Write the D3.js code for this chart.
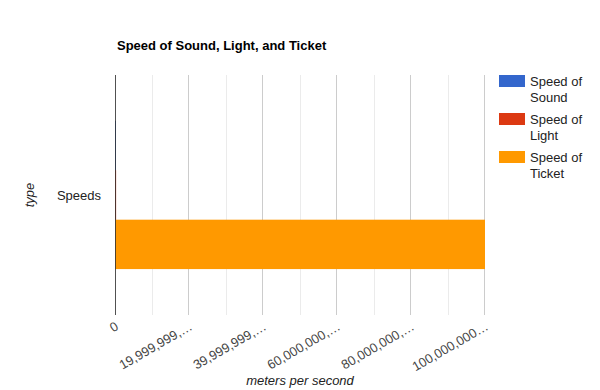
<!DOCTYPE html>
<html>
<head>
<meta charset="utf-8">
<script src="https://cdn.jsdelivr.net/npm/d3@7/dist/d3.min.js"></script>
<style>
  html, body { margin: 0; padding: 0; background: #fff; }
  svg { display: block; font-family: Arial, "Liberation Sans", sans-serif; }
</style>
</head>
<body>
<svg id="chart" width="600" height="390"></svg>
<script>
// ---- data ----
const categories = ["Speeds"];
const seriesNames = ["Speed of Sound", "Speed of Light", "Speed of Ticket"];
const seriesValues = [343, 299792, 100000000];
const seriesColors = ["#3366cc", "#dc3912", "#ff9900"];
const legendLines = [["Speed of", "Sound"], ["Speed of", "Light"], ["Speed of", "Ticket"]];
const xTickValues = [0, 20000000, 40000000, 60000000, 80000000, 100000000];
const xTickLabels = ["0", "19,999,999,\u2026", "39,999,999,\u2026", "60,000,000,\u2026", "80,000,000,\u2026", "100,000,000\u2026"];
const xMinorValues = [10000000, 30000000, 50000000, 70000000, 90000000];
const titleText = "Speed of Sound, Light, and Ticket";
const xTitle = "meters per second";
const yTitle = "type";

// ---- layout ----
const svg = d3.select("#chart");
const W = 600, H = 390;
const m = { left: 115, right: 115, top: 75, bottom: 75 };
const iw = W - m.left - m.right, ih = H - m.top - m.bottom;

const x = d3.scaleLinear().domain([0, 100000000]).range([m.left, m.left + iw]);
const y = d3.scaleBand().domain(categories).range([m.top, m.top + ih]).paddingInner(0).paddingOuter(0.31);
const ySub = d3.scaleBand().domain(seriesNames).range([0, y.bandwidth()]).padding(0);

// title
svg.append("text").attr("x", 117).attr("y", 50)
  .attr("font-size", 13).attr("font-weight", "bold").attr("fill", "#000")
  .text(titleText);

// gridlines
const g = svg.append("g");
g.selectAll("line.minor").data(xMinorValues).join("line")
  .attr("x1", d => Math.round(x(d)) + 0.5).attr("x2", d => Math.round(x(d)) + 0.5)
  .attr("y1", m.top).attr("y2", m.top + ih)
  .attr("stroke", "#ebebeb").attr("stroke-width", 1);
g.selectAll("line.major").data(xTickValues.slice(1)).join("line")
  .attr("x1", d => Math.round(x(d)) - 0.5).attr("x2", d => Math.round(x(d)) - 0.5)
  .attr("y1", m.top).attr("y2", m.top + ih)
  .attr("stroke", "#cccccc").attr("stroke-width", 1);

// bars
const data = seriesNames.map((s, i) => ({ cat: categories[0], name: s, value: seriesValues[i], color: seriesColors[i] }));
svg.append("g").selectAll("rect").data(data).join("rect")
  .attr("x", x(0))
  .attr("y", d => y(d.cat) + ySub(d.name))
  .attr("width", d => Math.max(0, x(d.value) - x(0)))
  .attr("height", ySub.bandwidth())
  .attr("fill", d => d.color);

// tinted baseline segments (series colour showing through thin bars)
svg.append("g").selectAll("line").data(data).join("line")
  .attr("x1", x(0) + 0.5).attr("x2", x(0) + 0.5)
  .attr("y1", d => y(d.cat) + ySub(d.name))
  .attr("y2", d => y(d.cat) + ySub(d.name) + ySub.bandwidth())
  .attr("stroke", d => d.color).attr("stroke-width", 1);

// baseline
svg.append("line")
  .attr("x1", x(0) + 0.5).attr("x2", x(0) + 0.5)
  .attr("y1", m.top).attr("y2", m.top + ih)
  .attr("stroke", "#333").attr("stroke-width", 1).attr("stroke-opacity", 0.85);

// x tick labels (slanted)
svg.append("g").selectAll("text").data(xTickValues).join("text")
  .attr("transform", d => `translate(${x(d) + 2},${m.top + ih + 10}) rotate(-30)`)
  .attr("text-anchor", "end").attr("dy", "0.35em")
  .attr("font-size", 13).attr("fill", "#444")
  .text((d, i) => xTickLabels[i]);

// y category label
svg.append("g").selectAll("text").data(categories).join("text")
  .attr("x", 101).attr("y", d => y(d) + y.bandwidth() / 2).attr("dy", "0.35em")
  .attr("text-anchor", "end").attr("font-size", 13).attr("fill", "#222")
  .text(d => d);

// axis titles
svg.append("text").attr("x", m.left + iw / 2).attr("y", 385)
  .attr("text-anchor", "middle").attr("font-size", 13).attr("font-style", "italic").attr("fill", "#222")
  .text(xTitle);
svg.append("text").attr("transform", `translate(34,${y(categories[0]) + y.bandwidth() / 2}) rotate(-90)`)
  .attr("text-anchor", "middle").attr("font-size", 13).attr("font-style", "italic").attr("fill", "#222")
  .text(yTitle);

// legend
const lg = svg.append("g").selectAll("g").data(seriesNames).join("g")
  .attr("transform", (d, i) => `translate(499,${75 + i * 38})`);
lg.append("rect").attr("width", 26).attr("height", 12).attr("fill", (d, i) => seriesColors[i]);
lg.append("text").attr("x", 31).attr("y", 10.5).attr("font-size", 13).attr("fill", "#222")
  .selectAll("tspan").data((d, i) => legendLines[i]).join("tspan")
  .attr("x", 31).attr("dy", (d, j) => j === 0 ? 0 : 16.5)
  .text(d => d);
</script>
</body>
</html>
